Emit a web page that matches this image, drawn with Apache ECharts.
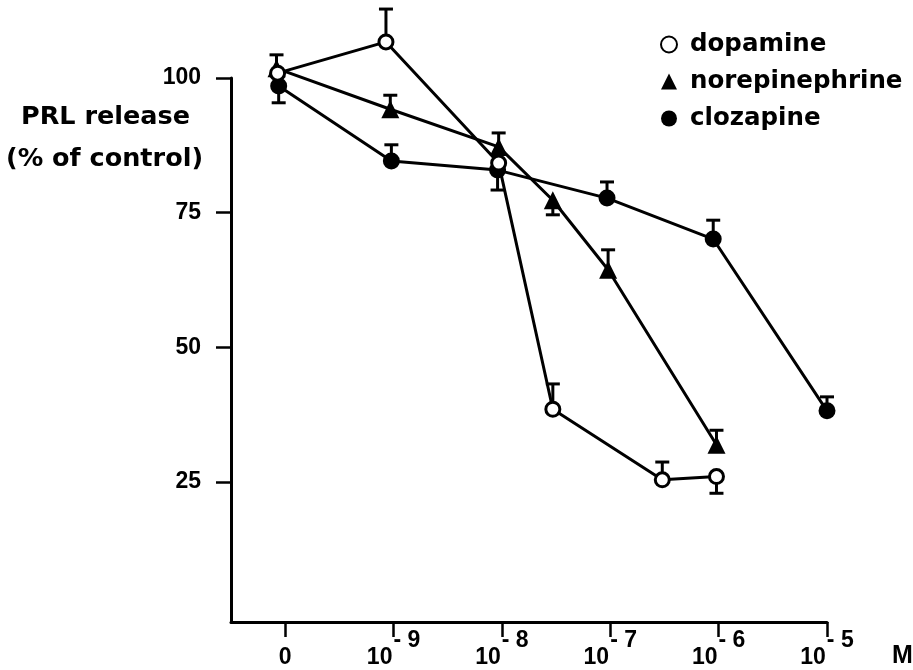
<!DOCTYPE html>
<html>
<head>
<meta charset="utf-8">
<script src="https://cdn.jsdelivr.net/npm/echarts@6/dist/echarts.min.js"></script>
<style>
  html, body { margin: 0; padding: 0; background: #fff; }
  #chart { width: 913px; height: 670px; }
</style>
</head>
<body>
<div id="chart"></div>
<script>
// ---- Data (x = log-concentration position: 0 = control, 1 = 10^-9 M ... 5 = 10^-5 M) ----
const xTickValues = [0, 1, 2, 3, 4, 5];
const xTickBase = ['0', '10', '10', '10', '10', '10'];
const xTickExp = [null, -9, -8, -7, -6, -5];
const yTickValues = [25, 50, 75, 100];

const seriesNames = ['dopamine', 'norepinephrine', 'clozapine'];

const dopamineX = [-0.07, 0.93, 1.97, 2.47, 3.48, 3.98];
const dopamineY = [100.9, 106.7, 84.2, 38.5, 25.4, 26.0];
const dopamineErrEnd = [null, 112.8, null, 43.2, 28.7, 22.9];

const norepiX = [-0.08, 0.97, 1.97, 2.47, 2.98, 3.98];
const norepiY = [101.8, 94.2, 87.2, 77.3, 64.4, 31.9];
const norepiErrEnd = [104.3, 96.8, 89.8, 74.6, 68.1, 34.6];

const clozX = [-0.06, 0.98, 1.96, 2.97, 3.95, 5.0];
const clozY = [98.5, 84.6, 82.9, 77.7, 70.1, 38.2];
const clozErrEnd = [95.4, 87.6, 79.2, 80.7, 73.6, 40.8];

// ---- Build ----
function pairs(xs, ys) { return xs.map((x, i) => [x, ys[i]]); }
function errs(xs, ys, es) {
  const out = [];
  xs.forEach((x, i) => { if (es[i] != null) out.push([x, ys[i], es[i]]); });
  return out;
}

const TEXT_FONT = 'DejaVu Sans';
const NUM_FONT = 'Liberation Sans';

function errorSeries(data) {
  return {
    type: 'custom',
    z: 1,
    silent: true,
    clip: false,
    encode: { x: 0, y: [1, 2] },
    data: data,
    renderItem: function (params, api) {
      const x = api.value(0), y0 = api.value(1), y1 = api.value(2);
      const p0 = api.coord([x, y0]);
      const p1 = api.coord([x, y1]);
      const half = 7;
      return {
        type: 'group',
        children: [
          { type: 'line', shape: { x1: p0[0], y1: p0[1], x2: p1[0], y2: p1[1] },
            style: { stroke: '#000', lineWidth: 3 } },
          { type: 'line', shape: { x1: p1[0] - half, y1: p1[1], x2: p1[0] + half, y2: p1[1] },
            style: { stroke: '#000', lineWidth: 3 } }
        ]
      };
    }
  };
}

const chart = echarts.init(document.getElementById('chart'), null, { renderer: 'canvas' });

const option = {
  backgroundColor: '#fff',
  animation: false,
  grid: { left: 231, right: 86, top: 78, bottom: 48 },
  legend: {
    orient: 'vertical',
    left: 655,
    top: 27,
    itemWidth: 16,
    itemHeight: 16,
    itemGap: 12,
    textStyle: {
      fontFamily: TEXT_FONT, fontWeight: 'bold', fontSize: 24.5, color: '#000',
      lineHeight: 25, padding: [0, 0, 0, 8]
    },
    data: [
      { name: 'dopamine', icon: 'circle' },
      { name: 'norepinephrine', icon: 'triangle' },
      { name: 'clozapine', icon: 'circle' }
    ]
  },
  xAxis: {
    type: 'value',
    min: -0.5,
    max: 5,
    splitLine: { show: false },
    axisLine: { show: true, onZero: false, lineStyle: { color: '#000', width: 3 } },
    axisTick: { show: true, customValues: xTickValues, length: 15, inside: false,
      lineStyle: { color: '#000', width: 2.5 } },
    axisLabel: {
      customValues: xTickValues,
      margin: 16,
      color: '#000',
      fontFamily: NUM_FONT, fontWeight: 'bold', fontSize: 23,
      formatter: function (v) {
        const i = xTickValues.indexOf(Math.round(v));
        if (i < 0) return '';
        const base = xTickBase[i];
        const e = xTickExp[i];
        return e == null ? '{b|' + base + '}' : '{b|' + base + '}{s|- ' + Math.abs(e) + '}';
      },
      rich: {
        b: { fontFamily: NUM_FONT, fontWeight: 'bold', fontSize: 23, lineHeight: 23,
             color: '#000', padding: [17, 0, 0, 0] },
        s: { fontFamily: NUM_FONT, fontWeight: 'bold', fontSize: 23, lineHeight: 23,
             color: '#000', padding: [0, 0, 17, 1] }
      }
    }
  },
  yAxis: {
    type: 'value',
    min: -1,
    max: 100,
    splitLine: { show: false },
    axisLine: { show: true, onZero: false, lineStyle: { color: '#000', width: 3 } },
    axisTick: { show: true, customValues: yTickValues, length: 15,
      lineStyle: { color: '#000', width: 2.5 } },
    axisLabel: {
      customValues: yTickValues,
      margin: 30,
      color: '#000',
      fontFamily: NUM_FONT, fontWeight: 'bold', fontSize: 23
    }
  },
  graphic: [
    { type: 'text', left: 21, top: 104,
      style: { text: 'PRL release', fontFamily: TEXT_FONT, fontWeight: 'bold', fontSize: 25.5, fill: '#000' } },
    { type: 'text', left: 6, top: 146,
      style: { text: '(% of control)', fontFamily: TEXT_FONT, fontWeight: 'bold', fontSize: 25.5, fill: '#000' } },
    { type: 'text', left: 892, top: 644,
      style: { text: 'M', fontFamily: NUM_FONT, fontWeight: 'bold', fontSize: 25, fill: '#000' } }
  ],
  series: [
    errorSeries(errs(clozX, clozY, clozErrEnd)),
    errorSeries(errs(norepiX, norepiY, norepiErrEnd)),
    errorSeries(errs(dopamineX, dopamineY, dopamineErrEnd)),
    {
      name: 'clozapine', type: 'line', z: 2, clip: false,
      data: pairs(clozX, clozY),
      symbol: 'circle', symbolSize: 17,
      lineStyle: { color: '#000', width: 3 },
      itemStyle: { color: '#000', borderColor: '#000', borderWidth: 0 }
    },
    {
      name: 'norepinephrine', type: 'line', z: 2, clip: false,
      data: pairs(norepiX, norepiY),
      symbol: 'triangle', symbolSize: 18,
      lineStyle: { color: '#000', width: 3 },
      itemStyle: { color: '#000', borderColor: '#000', borderWidth: 0 }
    },
    {
      name: 'dopamine', type: 'line', z: 2, clip: false,
      data: pairs(dopamineX, dopamineY),
      symbol: 'circle', symbolSize: 14,
      lineStyle: { color: '#000', width: 3 },
      itemStyle: { color: '#fff', borderColor: '#000', borderWidth: 3 }
    }
  ]
};

chart.setOption(option);
</script>
</body>
</html>
